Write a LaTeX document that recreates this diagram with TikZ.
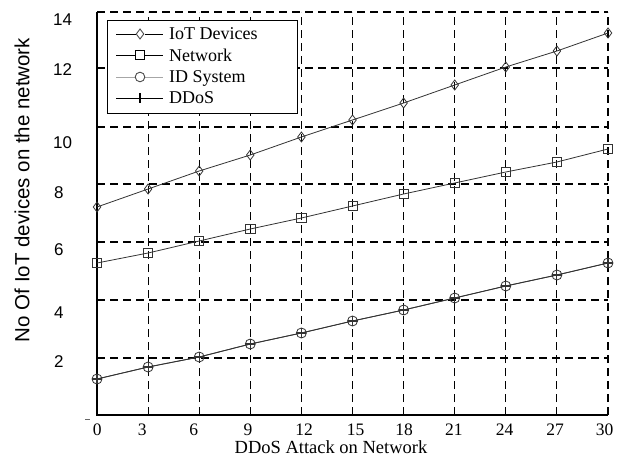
\documentclass[tikz,border=0pt]{standalone}
\usepackage{fontspec}
\setmainfont{Liberation Serif}
\newfontfamily\arialf{Liberation Sans}
\usetikzlibrary{plotmarks}
\begin{document}
\begin{tikzpicture}[x=1pt,y=-1pt,
  gridline/.style={line width=1.1pt, dash pattern=on 8pt off 5pt},
  axisline/.style={line width=1.2pt},
  curve/.style={line width=0.8pt, color=black!80},
  legtext/.style={anchor=base west, inner sep=0pt, font=\fontsize{18}{18}\selectfont},
  ytick/.style={anchor=west, inner sep=0pt, font=\arialf\fontsize{17}{17}\selectfont},
  xtick/.style={anchor=base, inner sep=0pt, font=\fontsize{17.5}{17.5}\selectfont}]
\useasboundingbox (0,0) rectangle (618,457);
\fill[white] (0,0) rectangle (618,457);
% grid
\foreach \yy in {12,68,127,184,242,300,358}
  \draw[gridline] (97,\yy) -- (608,\yy);
\foreach \i in {1,...,10}
  \draw[gridline] ({97+51.1*\i},415) -- ({97+51.1*\i},12);
% axes
\draw[axisline] (97,12) -- (97,415) -- (608,415);
\draw[line width=0.8pt, black!60] (85,419) -- (90,419);
% curves
\draw[curve] plot[mark=diamond, mark size=5pt, mark options={solid, line width=0.8pt}] coordinates {
  (97,207) (148.1,189) (199.2,171) (250.3,155) (301.4,137) (352.5,120)
  (403.6,103) (454.7,85) (505.8,67) (556.9,51) (608,33)};
\draw[curve] plot[mark=square, mark size=4.6pt, mark options={solid, line width=0.8pt}] coordinates {
  (97,263) (148.1,253) (199.2,241) (250.3,229) (301.4,218) (352.5,206)
  (403.6,194) (454.7,183) (505.8,172) (556.9,162) (608,149)};
\draw[curve] plot[mark=o, mark size=5pt, mark options={solid, line width=0.8pt}] coordinates {
  (97,379) (148.1,367) (199.2,357) (250.3,344) (301.4,333) (352.5,321)
  (403.6,310) (454.7,298) (505.8,286) (556.9,275) (608,263)};
\draw[curve] plot[mark=+, mark size=5pt, mark options={solid, line width=1.1pt}] coordinates {
  (97,379) (148.1,367) (199.2,357) (250.3,344) (301.4,333) (352.5,321)
  (403.6,310) (454.7,298) (505.8,286) (556.9,275) (608,263)};
% legend
\draw[fill=white, line width=0.9pt] (107,20) rectangle (297,113);
\draw[line width=0.9pt] plot[mark=diamond, mark size=5pt, mark options={black!70}] coordinates {(140,34)};
\draw[line width=0.9pt] (116,34) -- (135.5,34) (144.5,34) -- (163,34);
\draw[line width=0.9pt] (116,55) -- (163,55);
\draw[line width=0.9pt, fill=white] (135.5,50.5) rectangle (144.5,59.5);
\draw[line width=0.9pt, black!35] (116,77) -- (135,77) (145,77) -- (163,77);
\draw[line width=0.9pt, black!70] (140,77) circle (4.8pt);
\draw[line width=0.9pt] (116,98) -- (163,98);
\draw[line width=1.2pt] (140,93) -- (140,103);
\node[legtext] (l1) at (169,40) {IoT Devices};
\node[legtext] (l2) at (169,61.5) {Network};
\node[legtext] (l3) at (169,83) {ID System};
\node[legtext] (l4) at (169,104) {DDoS};
% y ticks
\node[ytick] (y14) at (53,20) {14};
\node[ytick] (y12) at (53,70) {12};
\node[ytick] (y10) at (53,143) {10};
\node[ytick] (y8) at (54,193) {8};
\node[ytick] (y6) at (54,250) {6};
\node[ytick] (y4) at (54,313) {4};
\node[ytick] (y2) at (54,362) {2};
\node[rotate=90, inner sep=0pt, font=\arialf\fontsize{20.5}{20.5}\selectfont] (ylab) at (22,190) {No Of IoT devices on the network};
% x ticks
\node[xtick] (x0) at (97.3,435) {0};
\node[xtick] (x3) at (142.3,435) {3};
\node[xtick] (x6) at (193.8,435) {6};
\node[xtick] (x9) at (248.1,435) {9};
\node[xtick] (x12) at (304.1,435) {12};
\node[xtick] (x15) at (355.6,435) {15};
\node[xtick] (x18) at (404.2,435) {18};
\node[xtick] (x21) at (453.9,435) {21};
\node[xtick] (x24) at (504.6,435) {24};
\node[xtick] (x27) at (555,435) {27};
\node[xtick] (x30) at (604.7,435) {30};
\node[anchor=base, inner sep=0pt, font=\fontsize{18.5}{18.5}\selectfont] (xlab) at (331,453) {DDoS Attack on Network};
\end{tikzpicture}
\end{document}
